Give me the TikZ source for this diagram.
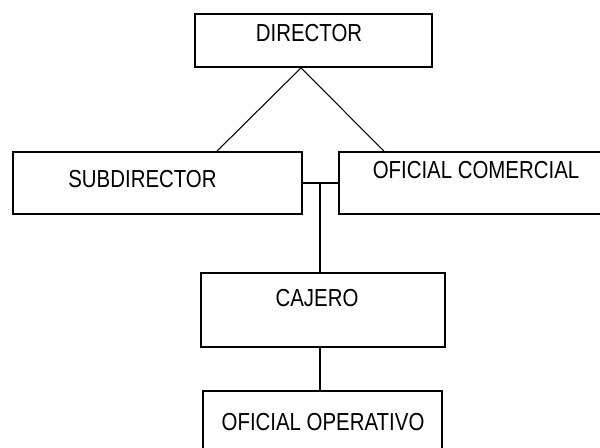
\documentclass[tikz,border=0pt]{standalone}
\usepackage{fontspec}
\setmainfont{Liberation Sans}[FakeStretch=0.83]
\usetikzlibrary{calc,positioning}

\begin{document}
\begin{tikzpicture}[x=0.03cm,y=-0.03cm,
    box/.style={draw,line width=1.5pt,rectangle,inner sep=0pt},
    lbl/.style={font=\fontsize{21}{25}\selectfont,inner sep=0pt},
    link/.style={line width=1.5pt},
    slant/.style={line width=0.9pt}]
  \useasboundingbox (0,0) rectangle (600,447);
  \clip (0,0) rectangle (600,447);
  % boxes
  \node[box,minimum width=237*0.03cm,minimum height=53*0.03cm,
        label={[lbl,shift={(-4.5,-7.5)}]center:DIRECTOR}] (director) at (313.5,40.5) {};
  \node[box,minimum width=289*0.03cm,minimum height=62*0.03cm,
        label={[lbl,shift={(-15,-4)}]center:SUBDIRECTOR}] (subdir) at (157.5,183) {};
  \node[box,minimum width=276*0.03cm,minimum height=62*0.03cm,
        label={[lbl,shift={(-1,-13)}]center:OFICIAL COMERCIAL}] (comercial) at (477,183) {};
  \node[box,minimum width=244*0.03cm,minimum height=74*0.03cm,
        label={[lbl,shift={(-6,-12)}]center:CAJERO}] (cajero) at (323,310) {};
  \node[box,minimum width=239*0.03cm,minimum height=69*0.03cm,
        label={[lbl,shift={(0.5,-3.5)}]center:OFICIAL OPERATIVO}] (operativo) at (322.5,425.5) {};
  % connectors
  \draw[slant] ($(director.south)+(-12.5,0)$) -- ($(subdir.north)+(59.5,0)$);
  \draw[slant] ($(director.south)+(-12.5,0)$) -- ($(comercial.north)+(-93,0)$);
  \draw[link] (subdir.east) -- (comercial.west);
  \coordinate (tee) at ($(subdir.east)!0.49!(comercial.west)$);
  \draw[link] (tee) -- (tee |- cajero.north);
  \draw[link] (cajero.south -| tee) -- (operativo.north -| tee);
\end{tikzpicture}
\end{document}
